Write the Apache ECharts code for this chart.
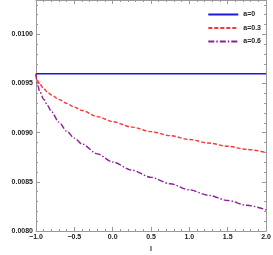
<!DOCTYPE html>
<html>
<head>
<meta charset="utf-8">
<script src="https://cdn.jsdelivr.net/npm/echarts@6/dist/echarts.min.js"></script>
<style>html,body{margin:0;padding:0;background:#fff}#c{width:273px;height:255px}</style>
</head>
<body>
<div id="c"></div>
<script>
const lValues = [-1, -0.995, -0.98, -0.95, -0.9, -0.85, -0.8, -0.7, -0.6, -0.5, -0.4, -0.2, 0, 0.25, 0.5, 0.75, 1.0, 1.25, 1.5, 1.75, 2.0];
const vsA0  = [0.0096, 0.0096, 0.0096, 0.0096, 0.0096, 0.0096, 0.0096, 0.0096, 0.0096, 0.0096, 0.0096, 0.0096, 0.0096, 0.0096, 0.0096, 0.0096, 0.0096, 0.0096, 0.0096, 0.0096, 0.0096];
const vsA03 = [0.0096, 0.009565, 0.009532, 0.009494, 0.009448, 0.009412, 0.009384, 0.009338, 0.009298, 0.00926, 0.009226, 0.009164, 0.009112, 0.009057, 0.009011, 0.00897, 0.008931, 0.008895, 0.008862, 0.00883, 0.008799];
const vsA06 = [0.0096, 0.009542, 0.009485, 0.009418, 0.00934, 0.009276, 0.009216, 0.009107, 0.009016, 0.008945, 0.008885, 0.008785, 0.008702, 0.008619, 0.008546, 0.00848, 0.008419, 0.008363, 0.008311, 0.008262, 0.008215];
const seriesNames = ['a=0', 'a=0.3', 'a=0.6'];
const xTicks = [-1.0, -0.5, 0.0, 0.5, 1.0, 1.5, 2.0];
const yTicks = [0.0080, 0.0085, 0.0090, 0.0095, 0.0100];

const pair = arr => lValues.map((l, i) => [l, arr[i]]);
const axisColor = '#999999';
const labelStyle = {color: '#222', fontSize: 7, fontWeight: 'bold', fontFamily: 'Liberation Sans'};
const tickCommon = {
  axisTick: {show: true, inside: true, length: 4, lineStyle: {color: axisColor}},
  minorTick: {show: true, splitNumber: 5, length: 2, lineStyle: {color: axisColor}},
  splitLine: {show: false}
};

const chart = echarts.init(document.getElementById('c'), null, {renderer: 'canvas'});
chart.setOption({
  animation: false,
  backgroundColor: '#fff',
  grid: {left: 36, right: 7, top: 0, bottom: 24, containLabel: false, outerBoundsMode: 'none'},
  legend: {
    orient: 'vertical', right: 7, top: 6, itemGap: 6.5, itemWidth: 30, itemHeight: 8,
    data: seriesNames,
    itemStyle: {opacity: 0},
    textStyle: {fontSize: 7, fontWeight: 'bold', fontFamily: 'Liberation Sans', color: '#222'}
  },
  xAxis: [Object.assign({
    type: 'value', min: -1, max: 2, interval: 0.5, position: 'bottom',
    name: 'l', nameLocation: 'middle', nameGap: 15,
    nameTextStyle: labelStyle,
    axisLine: {show: true, onZero: false, lineStyle: {color: axisColor, width: 1}},
    axisLabel: Object.assign({margin: 3, formatter: v => (xTicks.some(t => Math.abs(t - v) < 1e-9) ? v.toFixed(1).replace('-', '\u2212') : '')}, labelStyle)
  }, tickCommon), Object.assign({
    type: 'value', min: -1, max: 2, interval: 0.5, position: 'top',
    axisLine: {show: true, onZero: false, lineStyle: {color: axisColor, width: 1}},
    axisLabel: {show: false}
  }, tickCommon)],
  yAxis: [Object.assign({
    type: 'value', min: 0.0080, max: 0.01035, interval: 0.0005, position: 'left',
    name: 'v\u209B', nameLocation: 'middle', nameGap: 28, nameRotate: 90,
    nameTextStyle: labelStyle,
    axisLine: {show: true, onZero: false, lineStyle: {color: axisColor, width: 1}},
    axisLabel: Object.assign({margin: 3, showMaxLabel: false, formatter: v => (yTicks.some(t => Math.abs(t - v) < 1e-9) ? v.toFixed(4) : '')}, labelStyle)
  }, tickCommon), Object.assign({
    type: 'value', min: 0.0080, max: 0.01035, interval: 0.0005, position: 'right',
    axisLine: {show: true, onZero: false, lineStyle: {color: axisColor, width: 1}},
    axisLabel: {show: false}
  }, tickCommon)],
  series: [{
    name: seriesNames[0], type: 'line', data: pair(vsA0), showSymbol: false, symbol: 'none',
    lineStyle: {color: '#1a1ad6', width: 1.6, type: 'solid'}, itemStyle: {color: '#1a1ad6'}
  }, {
    name: seriesNames[1], type: 'line', data: pair(vsA03), showSymbol: false, symbol: 'none', smooth: 0.3, smoothMonotone: 'x',
    lineStyle: {color: '#ff3333', width: 1.4, type: [4, 2]}, itemStyle: {color: '#ff3333'}
  }, {
    name: seriesNames[2], type: 'line', data: pair(vsA06), showSymbol: false, symbol: 'none', smooth: 0.3, smoothMonotone: 'x',
    lineStyle: {color: '#8e1f9a', width: 1.4, type: [6, 2, 1.5, 2]}, itemStyle: {color: '#8e1f9a'}
  }]
});
</script>
</body>
</html>
